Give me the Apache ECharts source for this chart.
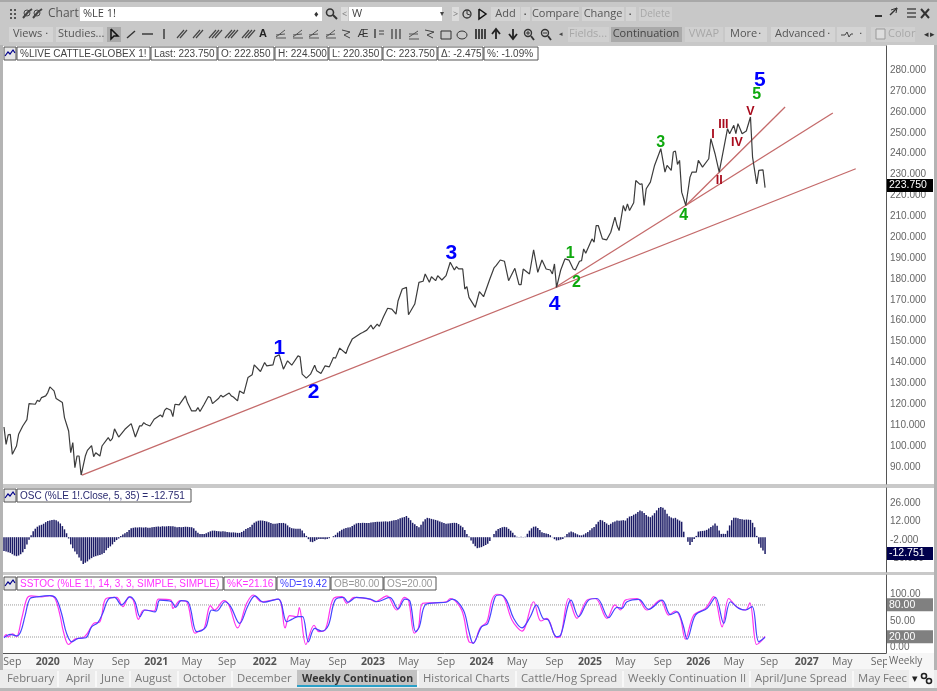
<!DOCTYPE html>
<html><head><meta charset="utf-8">
<style>html,body{margin:0;padding:0;background:#c9c9c9}#c{width:937px;height:691px}</style>
<script src="https://cdn.jsdelivr.net/npm/echarts@6/dist/echarts.min.js"></script>
</head><body><div id="c"></div>
<script>
// Weeks counted from the first bar on the chart
const tickWeeks=[4,21,38,56,73,90,107,125,142,160,177,194,212,229,246,264,281,298,316,333,350,367,385,402,420];
const tickLabels=['Sep','2020','May','Sep','2021','May','Sep','2022','May','Sep','2023','May','Sep','2024','May','Sep','2025','May','Sep','2026','May','Sep','2027','May','Sep'];
const priceTicks=[90,100,110,120,130,140,150,160,170,180,190,200,210,220,230,240,250,260,270,280];
const oscTicks=[26,12,-2,-16];
const stochTicks=[100,80,50,20,0];

const priceWeeks=[0,1,2,3,4,6,7,9,11,12,15,16,17,18,20,21,22,24,25,28,29,31,32,33,34,35,36,37,39,40,42,43,44,46,47,50,51,52,53,55,58,61,63,65,66,67,68,70,72,75,76,77,78,80,81,82,84,87,88,90,92,93,94,96,98,99,100,103,104,105,107,108,109,110,112,113,115,117,119,120,123,125,126,129,130,132,134,136,138,141,142,143,145,147,149,150,152,154,156,158,159,161,164,165,167,171,172,174,176,177,179,180,182,184,186,188,189,191,193,194,197,199,201,202,204,205,207,208,210,212,214,216,217,218,220,221,222,223,226,228,230,233,235,236,238,240,242,245,247,248,249,252,254,256,258,260,262,263,264,265,267,269,271,273,274,276,277,278,279,282,283,284,285,287,289,291,293,294,295,297,298,299,300,302,303,305,306,307,308,310,312,315,317,318,320,321,322,323,324,325,327,329,330,332,333,335,338,339,341,343,345,347,348,350,351,352,354,356,358,359,361,362,364,365];
const priceValues=[109.1,100.8,105.3,105.6,96,100,105.6,109.6,112.6,120.3,120,121.9,121.3,123.2,124,125.6,128.3,126.4,122.7,120.8,113.6,107.2,96.8,101.6,89.6,95.2,95.2,86.1,95.2,97.9,100.2,94.9,96.8,95.2,100,104,102.4,103.7,108.2,104.3,108,110.7,104.3,109.6,109.6,111.2,110.4,109.6,112.8,114.9,113.9,117.1,118.1,117.1,114.1,120,119.7,124,120.8,116.8,116.8,118.4,116.5,120,123.7,123.2,120.3,122.9,124.3,123.5,124.8,125.4,124,123.5,121.6,126.4,125.1,132.8,134.1,138.9,135.7,140,138.4,138.9,142.7,143.7,136.8,140.8,138.7,143.2,142.7,134.4,132.5,134.4,138.7,136,134.7,138.4,137.9,142.4,142.1,146.9,144.3,147.2,151.2,153.9,154.4,155.5,157.9,156,158.4,157.3,161.9,166,165.6,163.2,169.6,175.2,176,162.9,168,178.4,178.9,182.4,178.4,181.1,179.2,181.6,179.5,181.6,188,184.3,185.9,184.8,184.8,175.2,176.3,171.2,166.4,173.9,171.5,180,185.3,186.4,189.1,188.5,179.2,185.1,177.3,177.3,184.8,182.4,194,183.2,189.1,184.8,184.3,182.4,187.2,176,184.3,189.6,189,184.8,184.3,188.5,188.8,194.4,192.3,199.2,197.6,205.6,205.6,199.2,198.7,202.4,209.6,205.6,203.2,215.2,212.5,216,212.8,216.5,227.2,225.3,225.6,215.2,223.2,226.4,234.4,242.4,231.2,234.4,232,240.8,241.3,234.9,236.8,221.6,215.2,228.8,231.2,231.2,236.8,233.6,237.6,247.2,240,231.2,241.6,252,249.6,253.6,249.6,254.4,249.6,250.9,257.6,238.4,225.6,232,232.3,223.75];

const oscValues=[-10.5,-11,-11.5,-12,-13,-14,-14.5,-14,-13,-11.5,
-9,-5.5,-2,1.5,4.5,6.5,8,9,9.5,10.3,
11.5,12.3,12.8,13.2,13.3,13,12,10.5,8.5,6,
3,-1,-5.5,-8.5,-11,-13,-15.5,-18,-20.5,-19.5,
-18.5,-17,-16,-15,-14.5,-14,-13.6,-13,-12,-10,
-8.2,-7,-5.5,-3.6,-2.2,-1,1,2,3,4,
5.5,6.8,7.2,7.5,7.4,7.6,7.5,7.4,7.6,7.2,
7.3,7.6,7.7,7.9,8.2,8,8.4,8.2,8.3,8.5,
8.4,8.3,8,7.6,7.8,7.6,7.8,8,7.9,7.7,
7.6,6.8,5,3.4,2.5,2.4,2.5,3,3.8,4.5,
5,5,4.7,4.5,4.3,4.5,4.3,4,3.8,3.6,
3.7,3.5,3.3,3.3,4,5,6.2,7,7.8,9.5,
11,12,12.6,12.8,12.7,12.4,12,11.5,10.8,10.2,
10.2,10.5,10.9,10.8,10.9,10.4,9,7.6,6.9,6.6,
6.5,6.5,6.4,5.2,3,1,-1.5,-3.5,-3.8,-3,
-2,-1.4,-1.3,-1.4,-1.5,-1.3,-0.8,0,0.8,1.8,
3.5,4.6,5.6,6.4,7,7.4,7.6,8.5,9.6,10.5,
10.9,10.8,11,10.9,10.8,10.9,11.2,11.4,11.7,11.9,
11.8,11.9,12,12.1,11.9,12.2,12.6,13,13.2,13.8,
14.4,15,15.4,16.2,14.8,13,11,9.8,8.6,7.6,
9.5,12,13.8,14.8,14.5,14,13.6,13.2,12.7,12,
11.4,10.8,10.2,10.4,10.7,10.9,11,10.9,10,8.8,
7.6,5.5,2.5,0.5,-2.5,-5,-7,-8.4,-8,-7.6,
-6.8,-6,-5,-3,0,2.5,5,6.2,7,7.6,
7.9,7.6,6.4,5,3.4,1.5,0.3,0.1,0.4,0.2,
0.3,2.6,5,6.8,8,8.2,7,5.5,3.8,3.2,
2.8,2.4,1.5,0.2,-1.5,-2.5,-2.3,-1.8,-1.3,0.5,
2.4,3.5,4.3,3.8,3,2.2,1.5,1.4,2,3,
4,5.3,6.8,7.8,9.8,11.8,13.2,12.8,11.6,10.5,
9.4,10.2,11.4,12,12.7,12.6,12.8,13,12.7,14.5,
15.8,16.2,17.2,18,19.2,20.4,19.8,18.5,17,15.8,
15.3,16.6,18.4,20.5,22.4,23,22.6,21,18,16,
15,14.4,14.8,13.6,12.7,11.8,4.2,0,-3.4,-5.9,
-3.6,-1.3,1,4.3,4.6,4.8,5,5.6,6.6,7.8,
9,10.4,8.8,5.2,2.5,2.6,2.5,5,9,13,
14.8,14.8,14.4,14,13.8,13.4,13.5,13.4,13.2,11,
7.6,1,-5,-8,-10.2,-12.75];

const kWeeks=[0,1,2,4,5,6,8.5,11,13,18,22,24.5,27,28.5,31,34,38,40,43,46,49,54,57,60,62,64.5,67,72,74,80,81,84.5,87.6,91.6,94,96,99,101,105.5,108,112,116.4,119.6,123.6,131.6,134.8,137,140.4,141.6,144.8,148.7,151,154,158,162,164.4,168,175.5,178,183.6,188.3,192,194,196.8,198.7,200.8,206,212.3,214,219.5,223,225,228.4,231.6,234,236.4,239.6,243.6,248.4,254,257.5,260.4,265,266.8,270.8,274.8,279.6,283.6,289.2,293,295.6,298,303.6,308.4,314.8,318.8,322,324.4,326.8,330.8,336.4,340.4,344.4,347.6,351.3,355.6,357.7,360.9,362.8,365];
const kValues=[20,24.5,20,26,24,20.5,55,92,96.8,95,97.4,92,58,30,6,16,19,27,45.5,48.6,92,94,76.8,95,89,53,70.5,68.7,91,89,73.6,88,86,27,32,36,78.6,70.5,88,78.6,37,83,98.6,86,91,37,60,58,75,6,42,30,33,92,95.5,83,94,91,86,97,70.5,94,89,27,36,83,84,86,92,70.5,11,9,37,48.6,89,100,95.5,52,31,86,50,55,19,20.5,92,55,89,92,55,80,70.5,89,92,70.5,89,61,68.7,55,16,61,73.6,95.5,39,92,76.8,70.5,84,6,11,21.16];
const dWeeks=[0,3,6,8,10,12.5,15.7,22,25,27.6,30,32.5,35.6,39.3,42,45,47.6,50,53,56.4,60.4,62.8,65.2,67.6,72.4,74.8,80.4,82.3,85,88.4,92.4,94.8,96.9,99.6,102,106,108.7,113,117,120.4,124.4,131.6,135.6,138,141,143.2,146,149,152.4,155.6,158.8,162.8,165,169,176,178.7,185,189,192.3,194.7,197.4,199.2,202,206.7,212,215,220.3,223,225,229,232,235.6,238,241,244.4,248.4,252.4,255.3,258.5,261,265,267,272,275.6,280.4,284.4,290,294,296.4,298.8,304.4,309.2,315.6,319.6,322.8,325.7,327.6,331.6,337.2,341.2,345.2,348.4,352.4,355.6,358.8,362,365];
const dValues=[18.6,25,22,30,58,92,95,97.4,92,64,26.8,11,17.4,18.6,39,46.8,67,90.5,94,80,95,86,58,70.5,67,89,86,75.5,88,85,30,32,39,70.5,68.7,86,77,45.5,78.6,97,85,91,48.6,53,58,58,11,36,31,42,89,94,85,94,90.5,86,94,72.4,91,87,30,39,80,84,85,91,70.5,30,8,39,45.5,95.5,98.6,89,55,37,58,80,55,52,20.5,23.6,89,58,89,92,56,75.5,73.6,86,90.5,71.8,89,62,67,42,16,61,73.6,94,45.5,86,73.6,70.5,77,11,19.42];
const obLevel=80, osLevel=20;

// Trend lines: first and last point of each, as [week, price]
const trendFirst=[[37.4,86.1],[264.3,175.9],[327,215.2]];
const trendLast=[[408.5,232.8],[397.5,259.5],[374.6,262.4]];

// Elliott-wave labels: text, week, price level
const blueWaves=[['1',132,147],['2',148.5,126],['3',214.5,192.5],['4',264,168],['5',362.5,275.3]];
const greenWaves=[['1',271.5,192],['2',274.5,178.1],['3',315,245.1],['4',326,210.2],['5',361,268.1]];
const redWaves=[['I',340,249],['II',343,227],['III',345,254],['IV',351.5,245.5],['V',358,260]];

const CH='"Open Sans"', AR='"Liberation Sans"';
const els=[];
function R(x,y,w,h,fill,stroke,z){els.push({type:'rect',shape:{x,y,width:w,height:h},style:{fill:fill||'none',stroke:stroke||'none',lineWidth:stroke?1:0},z:z||50,silent:true});}
function T(x,y,text,fill,size,font,weight,align,z){els.push({type:'text',x,y,style:{text,fill:fill||'#555',font:(weight||'normal')+' '+(size||11)+'px '+(font||CH),textAlign:align||'left',textVerticalAlign:'middle'},z:z||60,silent:true});}
function L(pts,col,w,z){els.push({type:'polyline',shape:{points:pts},style:{stroke:col||'#444',lineWidth:w||1,fill:'none'},z:z||60,silent:true});}
function C(cx,cy,r,col,w,fill){els.push({type:'circle',shape:{cx,cy,r},style:{stroke:col||'#444',lineWidth:w||1,fill:fill||'none'},z:60,silent:true});}

// Window chrome
R(0,0,937,45,'#c8c8c8',null,1);
R(0,0,937,2,'#a8a8a8',null,2);
R(887,45,47,439,'#fff',null,-5);R(887,488,47,84,'#fff',null,-5);R(887,575,47,78,'#fff',null,-5);
R(3,653,931,17,'#f6f6f6',null,-5);
R(0,669,937,22,'#ececec',null,1);
R(0,45,3,625,'#b4b4b4',null,1);R(934,45,3,625,'#b4b4b4',null,1);
R(0,688,937,3,'#b8b8b8',null,2);

// Row 1
[10,14,18].forEach(y=>{R(10,y-1,2,2,'#555');R(14,y-1,2,2,'#555');});
L([[23,18],[28,12],[32,9]],'#444',2);L([[33,18],[38,12],[42,9]],'#444',2);C(27,13,3,'#444',1);C(37,13,3,'#444',1);
T(48,14,'Chart','#555',12);
R(80,7,242,14,'#fff');T(83,14,'%LE 1!','#444',11);
T(314,14,'♦','#333',9);C(330,12.5,3.5,'#333',1.6);L([[333,15],[337,19]],'#333',2);
R(341,7,7,14,'#dcdcdc');T(342,14,'<','#777',9);
R(349,7,93,14,'#fff');T(352,14,'W','#444',11);T(440,14,'▾','#444',8);
R(452,7,7,14,'#dcdcdc');T(453,14,'>','#777',9);
C(467,14,4,'#333',1.3);L([[467,11],[467,14],[470,15]],'#333',1);L([[479,9],[479,19],[486,14],[479,9]],'#111',1.5);
[[491,29,'Add'],[532,47,'Compare'],[582,42,'Change']].forEach(b=>{R(b[0],7,b[1],14,'#d4d4d4');T(b[0]+b[1]/2,14,b[2],'#555',11,CH,'normal','center');});
R(521,7,9,14,'#d4d4d4');T(524,14,'▪','#555',6);R(626,7,10,14,'#d4d4d4');T(629,14,'▪','#555',6);
R(639,7,33,14,'#d0d0d0');T(655,14,'Delete','#a8a8a8',10,CH,'normal','center');
L([[875,16],[882,16]],'#333',2);L([[890,15],[897,8]],'#333',1.5);L([[891,10],[897,8],[896,13]],'#333',1);
[9,13,17].forEach(y=>L([[907,y],[916,y]],'#444',1.4));
L([[921,9],[929,18]],'#333',2);L([[929,9],[921,18]],'#333',2);

// Row 2
R(9,27,44,15,'#d4d4d4');T(13,34,'Views','#555',11);T(46,34,'▪','#555',5);
R(56,27,47,15,'#d4d4d4');T(58,34,'Studies...','#555',11);
R(107,27,14,15,'#a9a9a9');L([[111,29],[111,39],[114,36],[118,36],[111,29]],'#111',1.5);
L([[127,38],[135,31]],'#333',1.4);L([[142,34],[153,34]],'#333',1.4);L([[164,29],[164,39]],'#333',1.4);
[[177,2],[193,2],[209,3],[225,3],[242,3]].forEach(a=>{for(let i=0;i<a[1];i++){L([[a[0]+i*3,38],[a[0]+7+i*3,30]],'#444',1.2);}});
T(263,34,'A','#222',11,AR,'bold','center');
[276,293,309,326].forEach(x=>{L([[x,37],[x+9,30]],'#555',1);L([[x,38],[x+10,38]],'#555',1);L([[x,35],[x+9,34]],'#555',1);});
L([[342,30],[350,32],[344,35],[350,38]],'#444',1);
T(363,34,'Æ','#333',11,AR,'normal','center');
L([[375,29],[375,38]],'#444',1.5);L([[379,31],[384,31]],'#444',1);L([[379,34],[384,34]],'#444',1);
[392,396,400].forEach(x=>L([[x,29],[x,39]],'#444',1.3));
L([[409,37],[418,31]],'#555',1);L([[409,39],[419,39]],'#555',1);L([[409,34],[418,34]],'#555',1);
L([[425,30],[434,32],[427,35],[433,38]],'#444',1);
R(441,31,10,8,'none','#333');els.push({type:'ellipse',shape:{cx:462,cy:35,rx:5,ry:4},style:{stroke:'#333',fill:'none'},z:60,silent:true});
[476,479,482,485].forEach(x=>L([[x,29],[x,39]],'#222',1.6));
L([[496,39],[496,30]],'#222',1.8);L([[492,34],[496,29],[500,34]],'#222',1.8);
L([[513,29],[513,38]],'#222',1.8);L([[509,34],[513,39],[517,34]],'#222',1.8);
[528,545].forEach((x,i)=>{C(x,33,3.5,'#333',1.4);L([[x+3,36],[x+6,40]],'#333',1.8);L([[x-2,33],[x+2,33]],'#333',1);if(!i)L([[x,31],[x,35]],'#333',1);});
T(559,34,'◂','#444',7);
R(568,27,41,15,'#d0d0d0');T(588,34,'Fields...','#a8a8a8',11,CH,'normal','center');
R(611,27,71,15,'#aaaaaa');T(646,34,'Continuation','#444',11,CH,'normal','center');
R(685,27,38,15,'#d0d0d0');T(704,34,'VWAP','#a8a8a8',11,CH,'normal','center');
R(725,27,42,15,'#d4d4d4');T(730,34,'More','#555',11);T(759,34,'▪','#555',5);
R(771,27,64,15,'#d4d4d4');T(775,34,'Advanced','#555',11);T(828,34,'▪','#555',5);
R(837,27,29,15,'#d4d4d4');L([[841,35],[845,35],[847,32],[849,37],[851,34],[853,34]],'#444',1);T(860,34,'▪','#555',5);
R(871,27,44,15,'#d0d0d0');R(876,29,9,10,'#ddd','#999');T(888,34,'Color','#a8a8a8',11);
T(924,34,'◂','#333',9);T(930,34,'▸','#333',9);

// Legend boxes
function icon(x,y){R(x,y,12,13,'#e6e6e6','#555',70);L([[x+1,y+9],[x+4,y+5],[x+6,y+7],[x+9,y+3],[x+11,y+6]],'#00008b',1.2,71);}
function box(x,y,w,text,col){R(x,y,w,13,'#fff','#555',70);T(x+3,y+7,text,col,10,AR,'normal','left',71);}
icon(4,47);
[[17,133,'%LIVE CATTLE-GLOBEX 1!'],[151,66,'Last: 223.750'],[218,56,'O: 222.850'],[275,53,'H: 224.500'],[329,53,'L: 220.350'],[383,54,'C: 223.750'],[438,45,'Δ: -2.475'],[484,54,'%: -1.09%']].forEach(b=>box(b[0],47,b[1],b[2],'#444'));
icon(4,489);box(17,489,174,'OSC (%LE 1!.Close, 5, 35) = -12.751','#2a2a70');
icon(4,577);box(17,577,206,'SSTOC (%LE 1!, 14, 3, 3, SIMPLE, SIMPLE)','#ff33ff');
box(224,577,52,'%K=21.16','#ff33ff');box(277,577,53,'%D=19.42','#4444ff');box(331,577,52,'OB=80.00','#999');box(384,577,52,'OS=20.00','#999');

// Value tags on the right axis
function tag(y,text,bg,fg){R(887,y-6.5,46,13,bg,null,80);T(889,y,text,fg,10.5,AR,'normal','left',81);}
tag(185.5,'223.750','#000','#fff');
tag(553.5,'-12.751','#00004d','#fff');
tag(604.7,'80.00','#808080','#fff');
tag(636.7,'20.00','#808080','#fff');
R(887,653,47,17,'#f6f6f6',null,75);T(889,661.5,'Weekly','#666',10,CH,'normal','left',76);

// Tabs
[[7,'February'],[66,'April'],[101,'June'],[135,'August'],[183,'October'],[237,'December'],[423,'Historical Charts'],[521,'Cattle/Hog Spread'],[628,'Weekly Continuation II'],[755,'April/June Spread'],[858,'May Feec']].forEach(t=>T(t[0],678.5,t[1],'#777',11.3));
[57,95,129,177,231,297,417,515,622,749,852].forEach(x=>R(x,671,2,16,'#f8f8f8',null,2));
R(297,670,120,16,'#c2c2c2',null,2);R(297,685,120,2,'#2aa0c8',null,3);
T(302,678.5,'Weekly Continuation','#333',10.6,CH,'bold');
R(909,670,25,18,'#f6f6f6',null,2);T(912,679,'▾','#222',11);C(924,676,2.5,'#222',1.6);C(929,681,2.5,'#222',1.6);

const waveSeries=(rows,color,size)=>({type:'scatter',xAxisIndex:0,yAxisIndex:0,symbolSize:1,itemStyle:{color:'transparent',opacity:1},z:20,
  data:rows.map(r=>({name:r[0],value:[r[1],r[2]]})),
  label:{show:true,position:'inside',opacity:1,formatter:p=>p.name,color,fontFamily:AR,fontWeight:'bold',fontSize:size}});
const trendSeries=(a,b)=>({type:'line',xAxisIndex:0,yAxisIndex:0,data:[a,b],showSymbol:false,lineStyle:{color:'#c46a6a',width:1.3},z:8});
const lvl=(v)=>({type:'line',xAxisIndex:2,yAxisIndex:2,data:[[0,v],[365,v]],showSymbol:false,lineStyle:{color:'#999',width:1,type:'dotted'},z:3});
const zip=(a,b)=>a.map((x,i)=>[x,b[i]]);
const xCommon={type:'value',min:-0.48,max:423,splitLine:{show:false},axisTick:{show:false}};
const yCommon={type:'value',position:'right',scale:false,splitLine:{show:false},axisTick:{show:false},
  axisLine:{show:true,onZero:false,lineStyle:{color:'#555',width:1}}};

const chart=echarts.init(document.getElementById('c'),null,{renderer:'canvas'});
chart.setOption({
  animation:false,backgroundColor:'#c9c9c9',
  textStyle:{fontFamily:AR},
  grid:[
   {left:3,right:51,top:46,height:438,show:true,backgroundColor:'#fff',borderWidth:0},
   {left:3,right:51,top:488,height:84,show:true,backgroundColor:'#fff',borderWidth:0},
   {left:3,right:51,top:575,height:78,show:true,backgroundColor:'#fff',borderWidth:0}],
  xAxis:[
   {...xCommon,gridIndex:0,axisLine:{show:false},axisLabel:{show:false}},
   {...xCommon,gridIndex:1,axisLine:{show:false},axisLabel:{show:false}},
   {...xCommon,gridIndex:2,axisLine:{show:true,onZero:false,lineStyle:{color:'#555'}},
    axisLabel:{show:true,customValues:tickWeeks,margin:4,hideOverlap:false,showMinLabel:true,showMaxLabel:true,
      formatter:v=>{const s=tickLabels[tickWeeks.indexOf(v)]||'';return /^\d/.test(s)?'{y|'+s+'}':'{m|'+s+'}';},
      rich:{y:{fontFamily:CH,fontWeight:'bold',fontSize:10.5,color:'#555'},m:{fontFamily:CH,fontSize:10.5,color:'#666'}}}}],
  yAxis:[
   {...yCommon,gridIndex:0,min:81.8,max:291.6,axisLabel:{customValues:priceTicks,margin:4,color:'#666',fontSize:10,fontFamily:AR,formatter:v=>v.toFixed(3)}},
   {...yCommon,gridIndex:1,min:-26.6,max:37.6,axisLabel:{customValues:oscTicks,margin:4,color:'#666',fontSize:10,fontFamily:AR,formatter:v=>v.toFixed(3)}},
   {...yCommon,gridIndex:2,min:-9.9,max:136,axisLabel:{customValues:stochTicks,margin:4,color:'#666',fontSize:10,fontFamily:AR,formatter:v=>v.toFixed(2)}}],
  graphic:{elements:els},
  series:[
   {type:'line',xAxisIndex:0,yAxisIndex:0,data:zip(priceWeeks,priceValues),showSymbol:false,lineStyle:{color:'#3c3c3c',width:1.2},z:10},
   trendSeries(trendFirst[0],trendLast[0]),trendSeries(trendFirst[1],trendLast[1]),trendSeries(trendFirst[2],trendLast[2]),
   waveSeries(blueWaves,'#0000ff',21),waveSeries(greenWaves,'#0ea80e',16),waveSeries(redWaves,'#a80a1c',12.5),
   {type:'bar',xAxisIndex:1,yAxisIndex:1,barWidth:1.5,data:oscValues.map((v,i)=>[i,v]),itemStyle:{color:'#1c1c66'}},
   lvl(obLevel),lvl(osLevel),
   {type:'line',xAxisIndex:2,yAxisIndex:2,data:zip(kWeeks,kValues),showSymbol:false,smooth:0.35,lineStyle:{color:'#ff33ee',width:1.2},z:5},
   {type:'line',xAxisIndex:2,yAxisIndex:2,data:zip(dWeeks,dValues),showSymbol:false,smooth:0.35,lineStyle:{color:'#4444ff',width:1.2},z:6}
  ]
});
</script></body></html>
